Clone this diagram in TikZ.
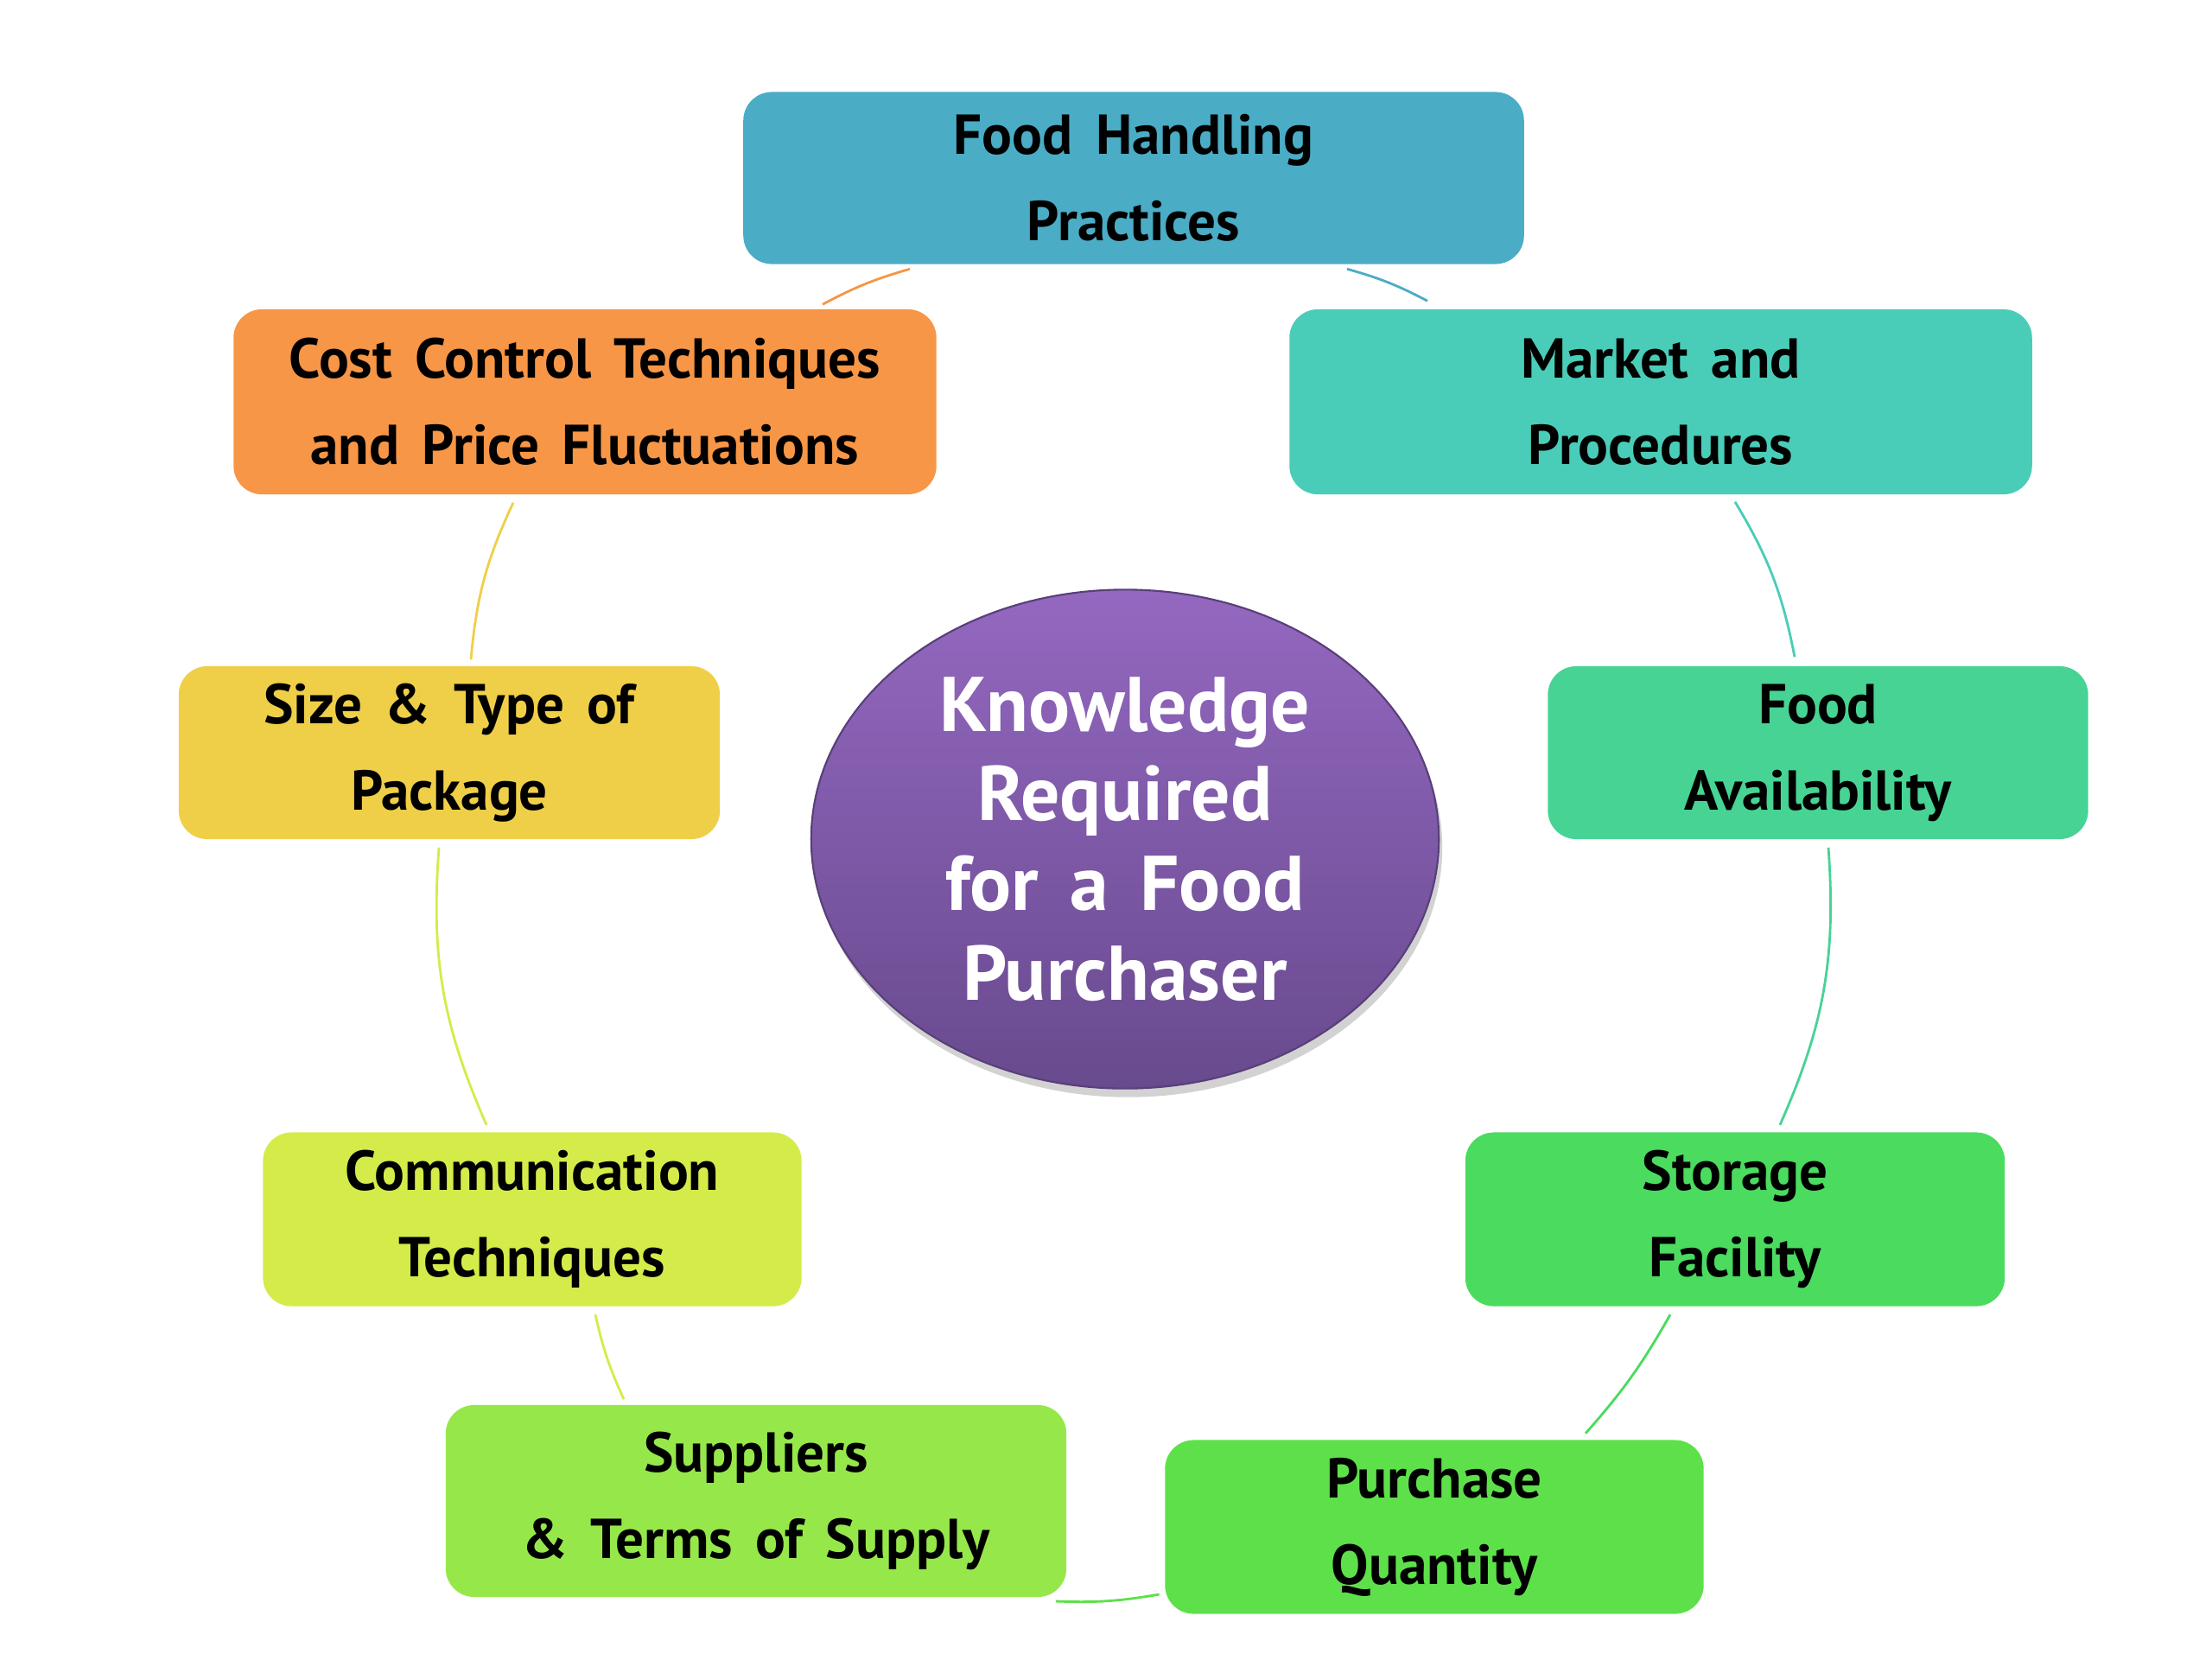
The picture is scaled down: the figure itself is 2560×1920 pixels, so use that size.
\documentclass[tikz,border=0pt]{standalone}
\usepackage{fontspec}
\setmainfont{PT Sans}[WordSpace=1.6]
\usetikzlibrary{calc,shadows,shapes.geometric}
\definecolor{cFH}{HTML}{4BACC6}
\definecolor{cCC}{HTML}{F79646}
\definecolor{cMK}{HTML}{4ACDB8}
\definecolor{cSZ}{HTML}{F0CF48}
\definecolor{cFA}{HTML}{47D394}
\definecolor{cCM}{HTML}{D5EB4A}
\definecolor{cST}{HTML}{4ADB5F}
\definecolor{cSU}{HTML}{96E84A}
\definecolor{cPQ}{HTML}{5EE04A}
\definecolor{cTop}{HTML}{9468C0}
\definecolor{cBot}{HTML}{684A8E}
\tikzset{
  box/.style={rectangle, rounded corners=0.33cm, align=center, text=black,
    font=\fontsize{18.5}{28.5}\selectfont\bfseries, inner sep=0pt},
  conn/.style={line width=0.8pt},
}
\begin{document}
\begin{tikzpicture}[x=0.01cm,y=-0.01cm]
\useasboundingbox[fill=white] (0,0) rectangle (2560,1920);
\node[box, fill=cFH, minimum width=9.03cm, minimum height=1.99cm] (fh) at (1312,206) {Food Handling\\Practices};
\node[box, fill=cCC, minimum width=8.13cm, minimum height=2.14cm] (cc) at (677,465) {Cost Control Techniques\\and Price Fluctuations};
\node[box, fill=cMK, minimum width=8.59cm, minimum height=2.14cm] (mk) at (1922,465) {Market and\\Procedures};
\node[box, fill=cSZ, minimum width=6.26cm, minimum height=2.00cm] (sz) at (520,871) {Size \& Type of\\Package};
\node[box, fill=cFA, minimum width=6.25cm, minimum height=2.00cm] (fa) at (2104,871) {Food\\Availability};
\node[box, fill=cCM, minimum width=6.23cm, minimum height=2.01cm] (cm) at (616,1411) {Communication\\Techniques};
\node[box, fill=cST, minimum width=6.24cm, minimum height=2.01cm] (st) at (2008,1411) {Storage\\Facility};
\node[box, fill=cSU, minimum width=7.18cm, minimum height=2.22cm] (su) at (875,1737) {Suppliers\\\& Terms of Supply};
\node[box, fill=cPQ, minimum width=6.23cm, minimum height=2.01cm] (pq) at (1660,1767) {Purchase\\Quantity};
\node[ellipse, minimum width=7.26cm, minimum height=5.77cm, inner sep=0pt,
  top color=cTop, bottom color=cBot, draw=cBot!85!black, line width=0.6pt,
  drop shadow={opacity=0.35, shadow xshift=0.04cm, shadow yshift=-0.1cm},
  align=center, text=white, font=\fontsize{25.5}{29.5}\selectfont\bfseries] (ell) at (1302,971)
  {Knowledge\\Required\\for a Food\\Purchaser};
% connectors
\draw[conn, cCC] ($(fh.south)+(-259,5)$) to[bend right=6] ($(cc.north)+(275,-5)$);
\draw[conn, cFH] ($(fh.south)+(247,5)$) to[bend left=6] ($(mk.north)+(-270,-9)$);
\draw[conn, cMK] ($(mk.south)+(86,8)$) to[bend left=10] ($(fa.north)+(-27,-10)$);
\draw[conn, cFA] ($(fa.south)+(12,9)$) to[bend left=14] ($(st.north)+(52,-8)$);
\draw[conn, cST] ($(st.south)+(-75,9)$) to[bend left=6] ($(pq.north)+(175,-7)$);
\draw[conn, cPQ] ($(pq.west)+(-6,78)$) to[bend left=6] ($(su.east)+(-13,116)$);
\draw[conn, cCM] ($(su.north)+(-153,-6)$) to[bend left=6] ($(cm.south)+(73,9)$);
\draw[conn, cCM] ($(cm.north)+(-53,-8)$) to[bend left=14] ($(sz.south)+(-12,9)$);
\draw[conn, cSZ] ($(sz.north)+(25,-7)$) to[bend left=10] ($(cc.south)+(-83,9)$);
\end{tikzpicture}
\end{document}
